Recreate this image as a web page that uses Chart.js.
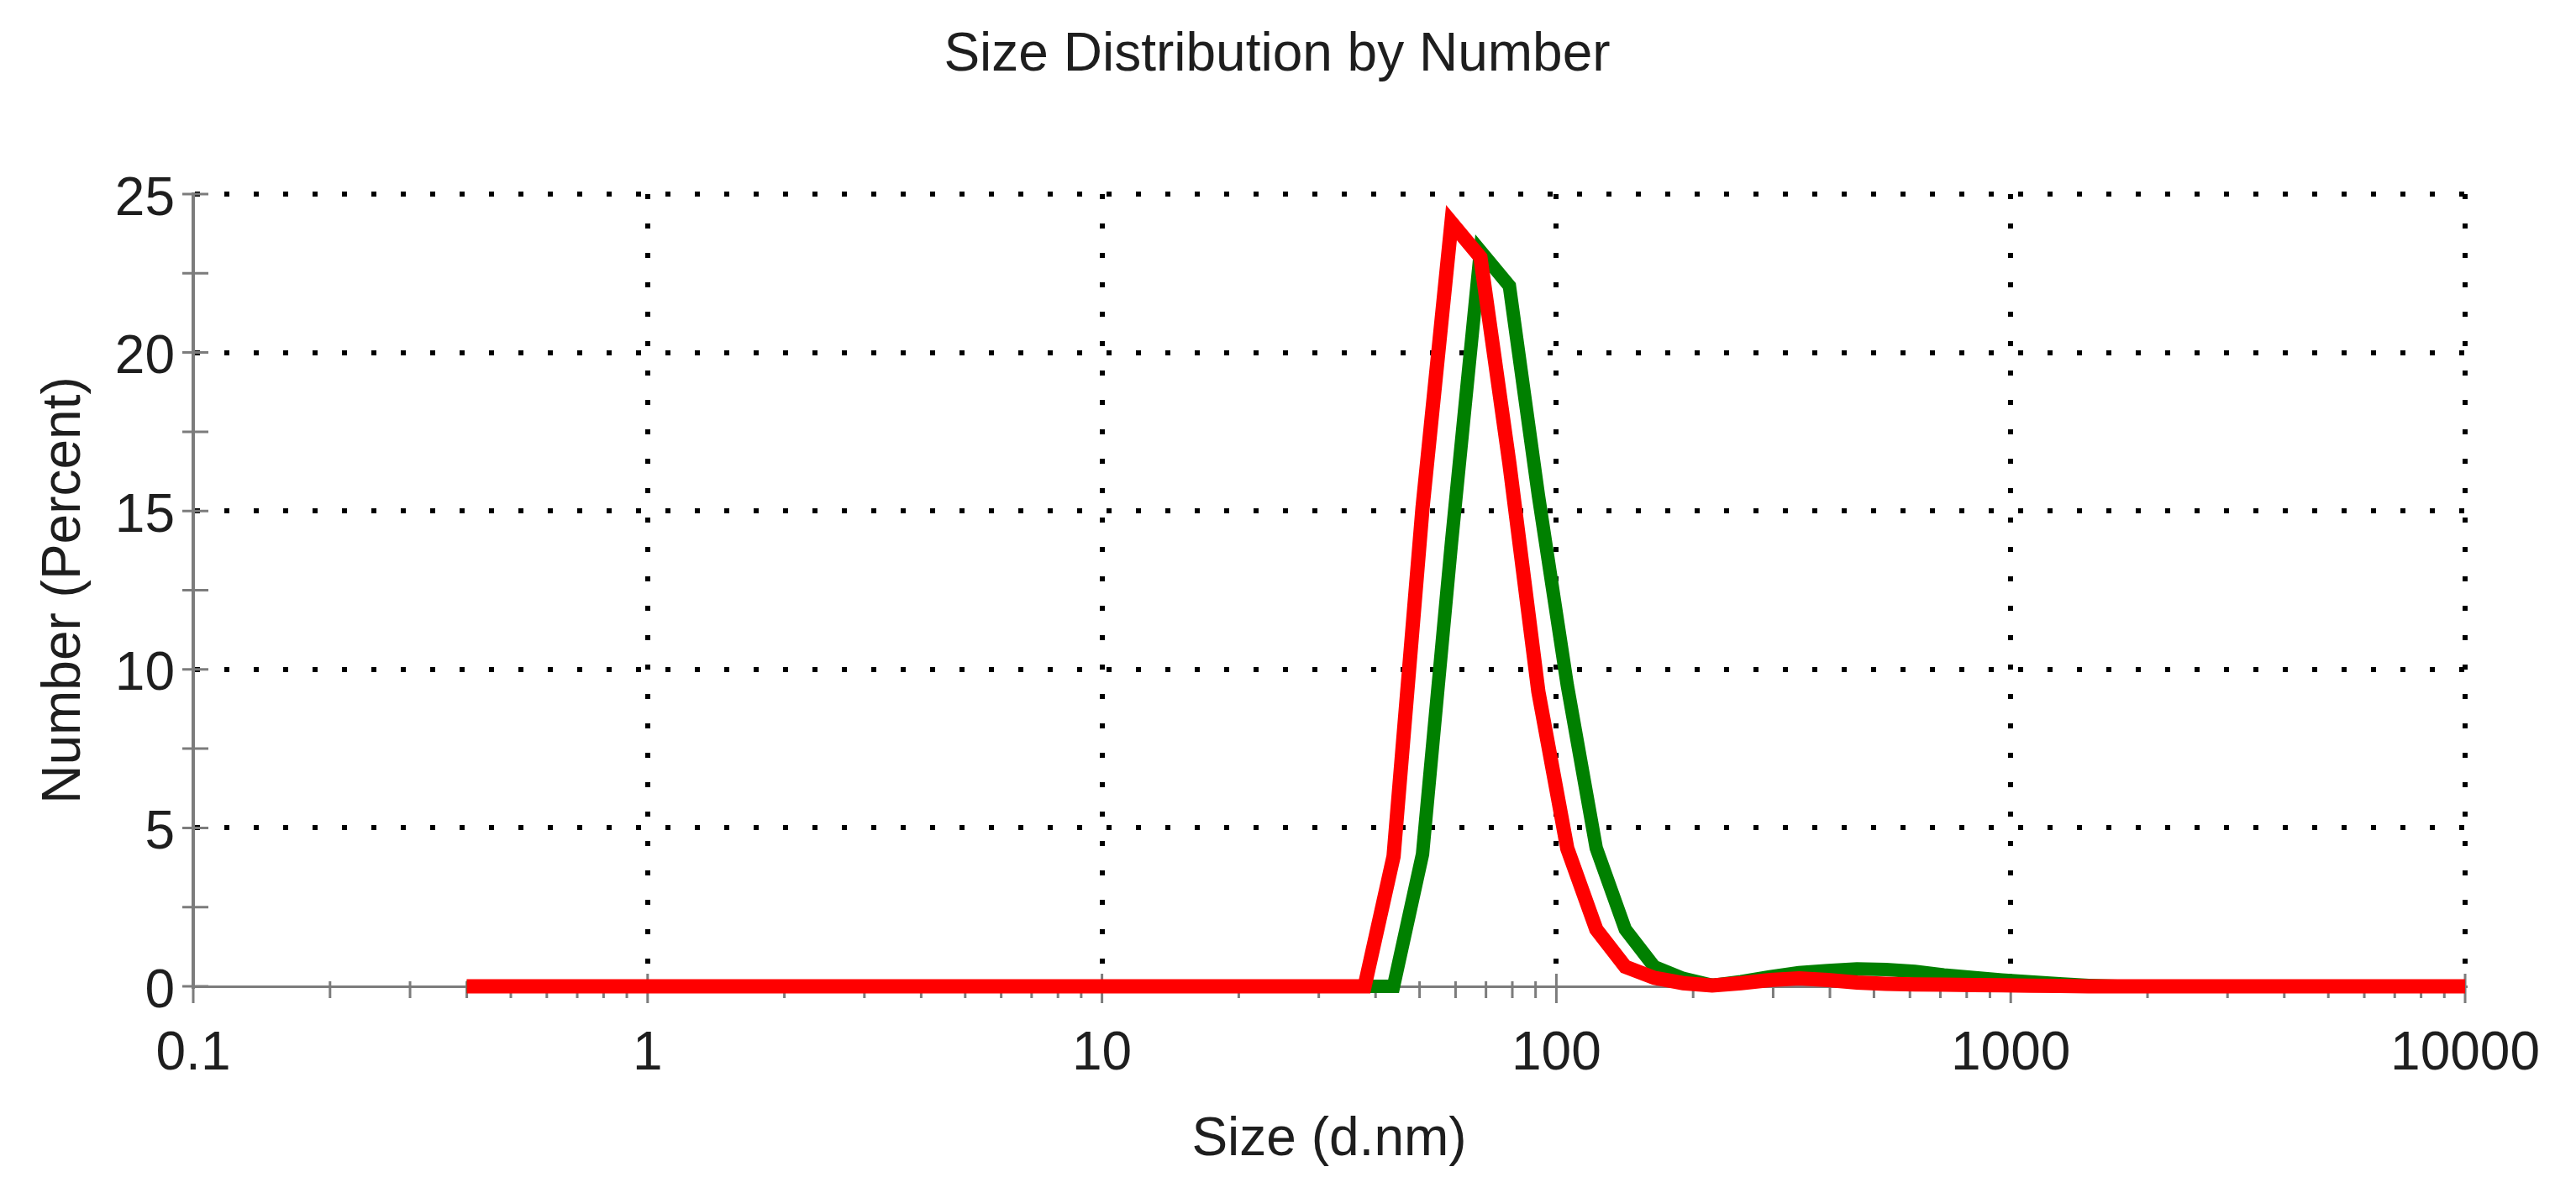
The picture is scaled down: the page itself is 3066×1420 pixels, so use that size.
<!DOCTYPE html>
<html>
<head>
<meta charset="utf-8">
<title>Size Distribution by Number</title>
<script src="https://cdn.jsdelivr.net/npm/chart.js@4.4.1/dist/chart.umd.min.js"></script>
<style>
    html, body { margin: 0; padding: 0; background: #fff; }
    #wrap { width: 3066px; height: 1420px; position: relative; }
</style>
</head>
<body>
<div id="wrap"><canvas id="chart"></canvas></div>
<script>
// size classes (d.nm) of the measurement
var sizes = [
    0.4, 0.4632, 0.5365, 0.6213, 0.7195, 0.8332, 0.9649, 1.117, 1.294, 1.499,
    1.736, 2.01, 2.328, 2.696, 3.122, 3.615, 4.187, 4.849, 5.615, 6.503,
    7.531, 8.721, 10.1, 11.7, 13.54, 15.69, 18.17, 21.04, 24.36, 28.21,
    32.67, 37.84, 43.82, 50.75, 58.77, 68.06, 78.82, 91.28, 105.7, 122.4,
    141.8, 164.2, 190.1, 220.2, 255, 295.3, 342, 396.1, 458.7, 531.2,
    615.1, 712.4, 825, 955.4, 1106, 1281, 1484, 1718, 1990, 2305,
    2669, 3091, 3580, 4145, 4801, 5560, 6439, 7456, 8635, 10000
];
// number % per class, red record
var redNumber = [
    0, 0, 0, 0, 0, 0, 0, 0, 0, 0,
    0, 0, 0, 0, 0, 0, 0, 0, 0, 0,
    0, 0, 0, 0, 0, 0, 0, 0, 0, 0,
    0, 0, 4.1, 15.1, 24.1, 23.0, 16.5, 9.3, 4.35, 1.8,
    0.62, 0.27, 0.1, 0.03, 0.1, 0.2, 0.25, 0.2, 0.12, 0.08,
    0.06, 0.05, 0.04, 0.03, 0.02, 0.01, 0, 0, 0, 0,
    0, 0, 0, 0, 0, 0, 0, 0, 0, 0
];
// number % per class, green record
var greenNumber = [
    0, 0, 0, 0, 0, 0, 0, 0, 0, 0,
    0, 0, 0, 0, 0, 0, 0, 0, 0, 0,
    0, 0, 0, 0, 0, 0, 0, 0, 0, 0,
    0, 0, 0, 4.17, 14.0, 23.2, 22.1, 15.5, 9.5, 4.36,
    1.8, 0.62, 0.25, 0.03, 0.15, 0.3, 0.43, 0.5, 0.55, 0.53,
    0.47, 0.36, 0.28, 0.2, 0.14, 0.08, 0.03, 0, 0, 0,
    0, 0, 0, 0, 0, 0, 0, 0, 0, 0
];
var sizeTicks = [0.1, 1, 10, 100, 1000, 10000];
var sizeTickLabels = ['0.1', '1', '10', '100', '1000', '10000'];
var percentTicks = [0, 5, 10, 15, 20, 25];

var FONT = "'Liberation Sans', Arial, sans-serif";
var TEXT = '#1e1e1e';
var AXIS = '#7c7c7c';

function toPoints(values) {
    return sizes.map(function (s, i) {
        return {x: s, y: values[i]};
    });
}

// small tick marks crossing both axes (majors + minors)
var axisTicks = {
    id: 'axisTicks',
    beforeDatasetsDraw: function (chart) {
        var ctx = chart.ctx,
            xs = chart.scales.x,
            ys = chart.scales.y,
            area = chart.chartArea;
        ctx.save();
        ctx.strokeStyle = AXIS;
        ctx.lineWidth = 3;
        ctx.beginPath();
        for (var v = 0; v <= 25; v += 2.5) {
            var py = ys.getPixelForValue(v);
            ctx.moveTo(area.left - 13, py);
            ctx.lineTo(area.left + 18, py);
        }
        sizeTicks.forEach(function (d, i) {
            var px = xs.getPixelForValue(d);
            ctx.moveTo(px, area.bottom - 15);
            ctx.lineTo(px, area.bottom + 20);
            if (i == sizeTicks.length - 1) return;
            for (var m = 2; m < 10; m++) {
                var mx = xs.getPixelForValue(d * m);
                ctx.moveTo(mx, area.bottom - 6);
                ctx.lineTo(mx, area.bottom + 14);
            }
        });
        ctx.stroke();
        ctx.restore();
    }
};

var ctx = document.getElementById('chart').getContext('2d');
var chart = new Chart(ctx, {
    type: 'line',
    data: {
        datasets: [{
            label: 'red',
            data: toPoints(redNumber),
            borderColor: '#ff0000',
            borderWidth: 17,
            pointRadius: 0,
            tension: 0,
            clip: false
        }, {
            label: 'green',
            data: toPoints(greenNumber),
            borderColor: '#008000',
            borderWidth: 16,
            pointRadius: 0,
            tension: 0,
            clip: false
        }]
    },
    options: {
        responsive: true,
        maintainAspectRatio: false,
        devicePixelRatio: 1,
        animation: false,
        layout: {padding: {left: 0, right: 26, top: 0, bottom: 0}},
        plugins: {
            legend: {display: false},
            tooltip: {enabled: false},
            title: {
                display: true,
                text: 'Size Distribution by Number',
                color: TEXT,
                font: {family: FONT, size: 64, weight: 'normal'},
                padding: {top: 28, bottom: 126.2}
            }
        },
        scales: {
            x: {
                type: 'logarithmic',
                position: 'bottom',
                min: 0.1,
                max: 10000,
                afterBuildTicks: function (scale) {
                    scale.ticks = sizeTicks.map(function (v) { return {value: v, major: true}; });
                },
                afterFit: function (scale) { scale.height = 246; },
                ticks: {
                    autoSkip: false,
                    maxRotation: 0,
                    padding: 43,
                    color: TEXT,
                    font: {family: FONT, size: 64},
                    callback: function (value, index) { return sizeTickLabels[index]; }
                },
                grid: {
                    drawTicks: false,
                    lineWidth: 6,
                    color: function (c) {
                        return c.tick && c.tick.value === 0.1 ? 'rgba(0,0,0,0)' : '#000';
                    }
                },
                border: {display: true, color: AXIS, width: 3, dash: [6, 29]},
                title: {
                    display: true,
                    text: 'Size (d.nm)',
                    color: TEXT,
                    font: {family: FONT, size: 64},
                    padding: {top: 0, bottom: 24}
                }
            },
            y: {
                type: 'linear',
                position: 'left',
                min: 0,
                max: 25,
                afterBuildTicks: function (scale) {
                    scale.ticks = percentTicks.map(function (v) { return {value: v}; });
                },
                afterFit: function (scale) { scale.width = 230; },
                ticks: {
                    padding: 22,
                    labelOffset: 7,
                    color: TEXT,
                    font: {family: FONT, size: 64}
                },
                grid: {
                    drawTicks: false,
                    lineWidth: 6,
                    color: function (c) {
                        return c.tick && c.tick.value === 0 ? 'rgba(0,0,0,0)' : '#000';
                    }
                },
                border: {display: true, color: AXIS, width: 4, dash: [6, 29]},
                title: {
                    display: true,
                    text: 'Number (Percent)',
                    color: TEXT,
                    font: {family: FONT, size: 64},
                    padding: {top: 39, bottom: 0}
                }
            },
            // empty spacer on the right so the title centres like the original
            spacer: {
                type: 'linear',
                position: 'right',
                display: true,
                afterFit: function (scale) { scale.width = 89; },
                ticks: {display: false},
                grid: {display: false},
                border: {display: false}
            }
        }
    },
    plugins: [axisTicks]
});
</script>
</body>
</html>
